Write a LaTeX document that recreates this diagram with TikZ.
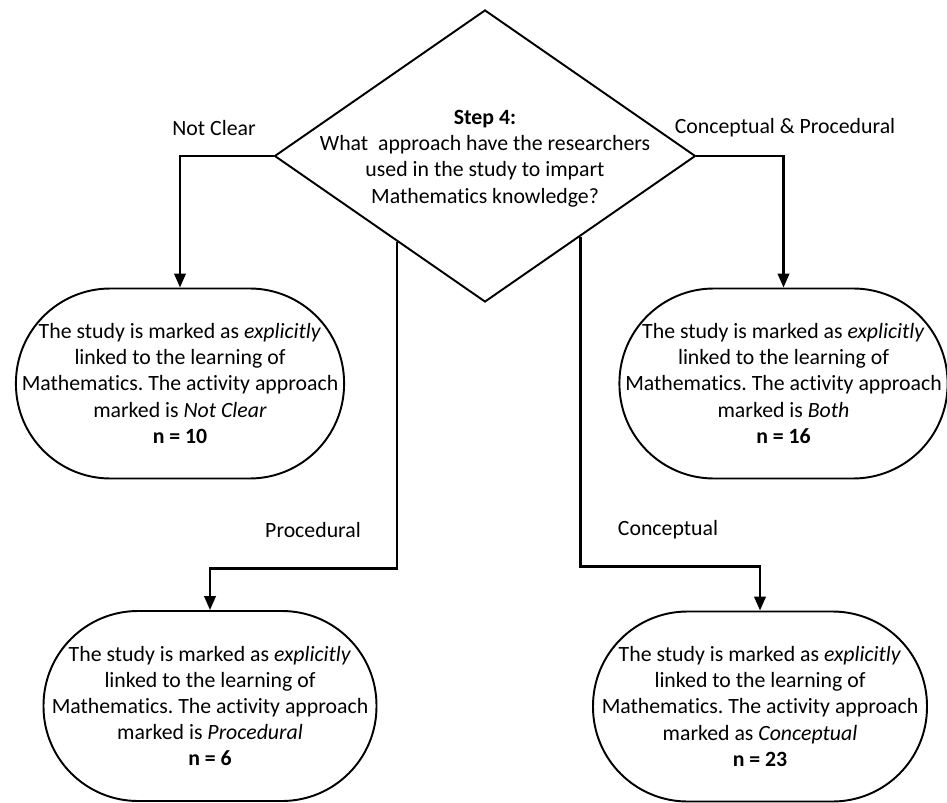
\documentclass[tikz,border=0pt]{standalone}
\usepackage{fontspec}
\setmainfont{Carlito}[RawFeature={-liga;-clig;-dlig;-calt}]
\frenchspacing
\usetikzlibrary{positioning,
        shapes.geometric,
        arrows.meta,
        calc}

\begin{document}
\begin{tikzpicture}[
        every node/.style={font=\fontsize{12.4}{14.9}\selectfont},
        decision/.style={diamond,draw,line width=1.1pt,inner sep=0pt,minimum width=8.42cm,minimum height=5.84cm},
        terminal/.style={rectangle,draw,line width=1.1pt,rounded corners=1.89cm,minimum height=3.8cm,align=center},
        flow/.style={-{Triangle[length=2.8mm,width=2.3mm]},line width=1.4pt},
        branch/.style={inner sep=0pt}]
            \useasboundingbox (0,0) rectangle (18.94,-16.06);

            \node [decision] (step) at (9.70,-3.12) {};
            \node [align=center] (steptext) at (9.70,-3.17) {\textbf{Step 4:}\\What\ \ approach have the researchers\\used in the study to impart\\Mathematics knowledge?};

            \node [terminal,minimum width=6.56cm] (unclear) at (3.60,-7.67) {The study is marked as \textit{explicitly}\\linked to the learning of\\Mathematics. The activity approach\\marked is \textit{Not Clear}\\\textbf{n = 10}};
            \node [terminal,minimum width=6.50cm] (both) at (15.67,-7.67) {The study is marked as \textit{explicitly}\\linked to the learning of\\Mathematics. The activity approach\\marked is \textit{Both}\\\textbf{n = 16}};
            \node [terminal,minimum width=6.66cm] (proc) at (4.20,-14.12) {The study is marked as \textit{explicitly}\\linked to the learning of\\Mathematics. The activity approach\\marked is \textit{Procedural}\\\textbf{n = 6}};
            \node [terminal,minimum width=6.68cm] (conc) at (15.20,-14.13) {The study is marked as \textit{explicitly}\\linked to the learning of\\Mathematics. The activity approach\\marked as \textit{Conceptual}\\\textbf{n = 23}};

            \node [branch] (unclearlabel) at (4.28,-2.56) {Not Clear};
            \node [branch] (bothlabel) at (15.70,-2.56) {Conceptual \& Procedural};
            \node [branch] (proclabel) at (6.26,-10.60) {Procedural};
            \node [branch] (conclabel) at (13.36,-10.60) {Conceptual};

            \coordinate (procstart) at ($(step.south)!0.417!(step.west)$);
            \coordinate (concstart) at ($(step.south)!0.451!(step.east)$);

            \draw [flow] (step.west) -| (unclear.north);
            \draw [flow] (step.east) -| (both.north);
            \draw [flow] (procstart) -- ++(0,-6.54) -| (proc.north);
            \draw [flow] (concstart) -- ++(0,-6.60) -| (conc.north);
        \end{tikzpicture}
\end{document}
